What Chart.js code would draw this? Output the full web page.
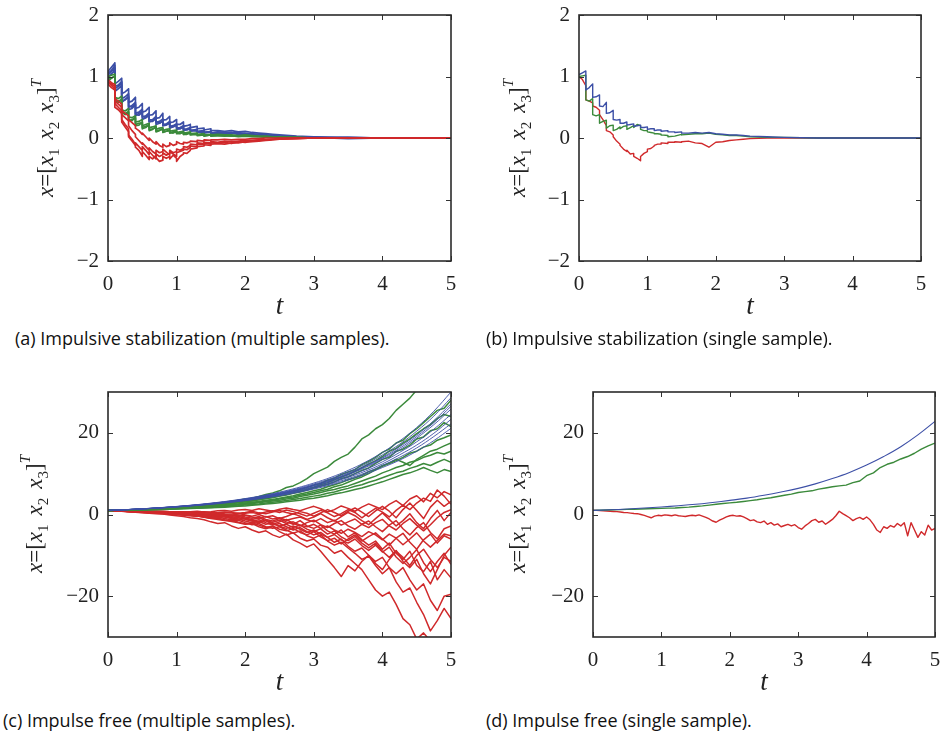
<!DOCTYPE html>
<html><head><meta charset="utf-8">
<script src="https://cdn.jsdelivr.net/npm/chart.js@4.4.0/dist/chart.umd.min.js"></script>
<style>
body{margin:0;background:#fff;width:941px;height:733px;position:relative;overflow:hidden;}
.panel{position:absolute;}
.cap{position:absolute;font-family:"Open Sans",sans-serif;font-size:18px;line-height:22px;color:#111;white-space:nowrap;}
.yl{position:absolute;font-family:"Liberation Serif",serif;font-size:23px;line-height:26px;color:#222;white-space:nowrap;transform:translate(-50%,-50%) rotate(-90deg);}
.yl i{font-style:italic;}
.yl sub{font-size:15px;vertical-align:-6px;line-height:0;margin-right:9px;}
.yl sub.l{margin-right:0;}
.yl sup{font-size:15px;vertical-align:12px;line-height:0;}
</style></head><body>
<div class="panel" id="pa"><canvas id="ca"></canvas></div>
<div class="panel" id="pb"><canvas id="cb"></canvas></div>
<div class="panel" id="pc"><canvas id="cc"></canvas></div>
<div class="panel" id="pd"><canvas id="cd"></canvas></div>
<div class="yl" style="left:46px;top:138px"><i>x</i>=[<i>x</i><sub>1</sub><i>x</i><sub>2</sub><i>x</i><sub class="l">3</sub>]<sup><i>T</i></sup></div>
<div class="yl" style="left:518px;top:138px"><i>x</i>=[<i>x</i><sub>1</sub><i>x</i><sub>2</sub><i>x</i><sub class="l">3</sub>]<sup><i>T</i></sup></div>
<div class="yl" style="left:35px;top:514px"><i>x</i>=[<i>x</i><sub>1</sub><i>x</i><sub>2</sub><i>x</i><sub class="l">3</sub>]<sup><i>T</i></sup></div>
<div class="yl" style="left:518px;top:514px"><i>x</i>=[<i>x</i><sub>1</sub><i>x</i><sub>2</sub><i>x</i><sub class="l">3</sub>]<sup><i>T</i></sup></div>
<div class="cap" style="left:15px;top:327px">(a) Impulsive stabilization (multiple samples).</div>
<div class="cap" style="left:486px;top:327px">(b) Impulsive stabilization (single sample).</div>
<div class="cap" style="left:3px;top:709px">(c) Impulse free (multiple samples).</div>
<div class="cap" style="left:486px;top:709px">(d) Impulse free (single sample).</div>
<script>
// ---------- tick labels ----------
const xTicks = [0, 1, 2, 3, 4, 5];
const yTicksAB = [-2, -1, 0, 1, 2];
const yTicksCD = [-20, 0, 20];

// ---------- time grids ----------
// impulsive grid (repeated instants = value just before / just after an impulse)
const tImp = [0,0.05,0.1,0.1,0.15,0.2,0.2,0.25,0.3,0.3,0.35,0.4,0.4,0.45,0.5,0.5,0.55,0.6,0.6,0.65,0.7,0.7,0.75,0.8,0.8,0.85,0.9,0.9,0.95,1.0,1.0,1.05,1.1,1.1,1.15,1.2,1.2,1.3,1.3,1.4,1.4,1.5,1.5,1.6,1.7,1.8,1.9,2.0,2.1,2.2,2.3,2.4,2.5,2.75,3.0,3.5,4.0,5.0];
const tC = [0,0.1,0.2,0.3,0.4,0.5,0.6,0.7,0.8,0.9,1.0,1.1,1.2,1.3,1.4,1.5,1.6,1.7,1.8,1.9,2.0,2.1,2.2,2.3,2.4,2.5,2.6,2.7,2.8,2.9,3.0,3.1,3.2,3.3,3.4,3.5,3.6,3.7,3.8,3.9,4.0,4.1,4.2,4.3,4.4,4.5,4.6,4.7,4.8,4.9,5.0];
const tBlue = [0,0.25,0.5,0.75,1.0,1.25,1.5,1.75,2.0,2.25,2.5,2.75,3.0,3.25,3.5,3.75,4.0,4.25,4.5,4.75,5.0];
const tD = [0,0.05,0.1,0.15,0.2,0.25,0.3,0.35,0.4,0.45,0.5,0.55,0.6,0.65,0.7,0.75,0.8,0.85,0.9,0.95,1.0,1.05,1.1,1.15,1.2,1.25,1.3,1.35,1.4,1.45,1.5,1.55,1.6,1.65,1.7,1.75,1.8,1.85,1.9,1.95,2.0,2.05,2.1,2.15,2.2,2.25,2.3,2.35,2.4,2.45,2.5,2.55,2.6,2.65,2.7,2.75,2.8,2.85,2.9,2.95,3.0,3.05,3.1,3.15,3.2,3.25,3.3,3.35,3.4,3.45,3.5,3.55,3.6,3.65,3.7,3.75,3.8,3.85,3.9,3.95,4.0,4.05,4.1,4.15,4.2,4.25,4.3,4.35,4.4,4.45,4.5,4.55,4.6,4.65,4.7,4.75,4.8,4.85,4.9,4.95,5.0];

// ---------- (a) impulsive stabilization, multiple samples ----------
const aBlue1 = [1.08,1.15,1.22,0.88,0.92,0.97,0.72,0.75,0.8,0.58,0.6,0.66,0.48,0.5,0.56,0.42,0.44,0.5,0.37,0.38,0.44,0.32,0.33,0.4,0.29,0.3,0.35,0.25,0.26,0.3,0.22,0.22,0.26,0.19,0.2,0.22,0.17,0.19,0.15,0.16,0.13,0.15,0.12,0.12,0.11,0.12,0.1,0.11,0.09,0.08,0.07,0.06,0.05,0.03,0.02,0.01,0,0];
const aBlue2 = [1.02,1.08,1.14,0.8,0.84,0.9,0.64,0.67,0.72,0.5,0.53,0.58,0.4,0.42,0.47,0.34,0.36,0.41,0.29,0.3,0.35,0.25,0.27,0.31,0.22,0.23,0.27,0.19,0.2,0.23,0.16,0.17,0.2,0.14,0.15,0.17,0.12,0.14,0.11,0.12,0.09,0.11,0.08,0.09,0.1,0.08,0.09,0.07,0.06,0.06,0.05,0.04,0.03,0.02,0.01,0,0,0];
const aBlue3 = [0.98,1.04,1.1,0.84,0.86,0.92,0.6,0.62,0.68,0.52,0.5,0.55,0.36,0.4,0.44,0.36,0.33,0.38,0.26,0.28,0.33,0.27,0.24,0.28,0.2,0.22,0.25,0.17,0.18,0.21,0.17,0.15,0.18,0.12,0.14,0.15,0.13,0.12,0.1,0.11,0.1,0.09,0.07,0.1,0.08,0.09,0.07,0.08,0.07,0.05,0.05,0.03,0.03,0.02,0,0.01,0,0];
const aBlue4 = [1.05,1.1,1.18,0.76,0.8,0.86,0.58,0.63,0.66,0.46,0.48,0.54,0.38,0.37,0.42,0.3,0.33,0.37,0.27,0.27,0.32,0.22,0.24,0.28,0.2,0.21,0.24,0.16,0.19,0.21,0.14,0.15,0.18,0.13,0.13,0.15,0.11,0.12,0.09,0.1,0.08,0.1,0.07,0.08,0.07,0.08,0.06,0.06,0.05,0.05,0.04,0.03,0.02,0.01,0.01,-0.01,0,0];
const aGreen1 = [1.0,1.02,1.04,0.66,0.64,0.68,0.46,0.44,0.48,0.34,0.33,0.36,0.26,0.27,0.3,0.2,0.22,0.24,0.17,0.18,0.2,0.14,0.16,0.17,0.12,0.14,0.15,0.11,0.12,0.13,0.09,0.1,0.11,0.08,0.09,0.1,0.07,0.08,0.06,0.07,0.05,0.06,0.05,0.06,0.05,0.05,0.04,0.05,0.04,0.03,0.03,0.02,0.02,0.01,0,0,0,0];
const aGreen2 = [0.96,0.98,1.0,0.58,0.6,0.62,0.4,0.4,0.43,0.28,0.3,0.32,0.22,0.24,0.25,0.17,0.19,0.21,0.14,0.15,0.17,0.11,0.13,0.14,0.1,0.11,0.13,0.08,0.1,0.1,0.07,0.08,0.09,0.06,0.07,0.08,0.05,0.06,0.05,0.05,0.04,0.05,0.03,0.04,0.04,0.03,0.03,0.04,0.03,0.02,0.02,0.02,0.01,0.01,0,0,0,0];
const aGreen3 = [0.93,0.97,1.01,0.62,0.58,0.63,0.42,0.38,0.42,0.3,0.28,0.34,0.2,0.21,0.26,0.15,0.17,0.22,0.12,0.14,0.18,0.1,0.12,0.15,0.09,0.11,0.12,0.09,0.08,0.11,0.08,0.07,0.1,0.06,0.06,0.09,0.06,0.07,0.04,0.05,0.03,0.05,0.04,0.04,0.03,0.04,0.02,0.03,0.02,0.02,0.01,0.01,0.01,0,0,0,0,0];
const aRed1 = [0.92,0.86,0.8,0.56,0.5,0.44,0.3,0.22,0.15,0.05,-0.02,-0.1,-0.15,-0.2,-0.3,-0.22,-0.28,-0.35,-0.3,-0.34,-0.28,-0.32,-0.38,-0.36,-0.3,-0.33,-0.3,-0.34,-0.28,-0.33,-0.38,-0.3,-0.26,-0.24,-0.25,-0.2,-0.18,-0.16,-0.14,-0.13,-0.11,-0.12,-0.1,-0.09,-0.1,-0.08,-0.08,-0.06,-0.06,-0.05,-0.04,-0.03,-0.02,-0.01,0,0,0,0];
const aRed2 = [0.9,0.88,0.84,0.6,0.55,0.5,0.38,0.33,0.28,0.2,0.12,0.06,0.02,-0.04,-0.1,-0.08,-0.14,-0.2,-0.16,-0.22,-0.26,-0.2,-0.24,-0.22,-0.18,-0.23,-0.28,-0.2,-0.24,-0.22,-0.18,-0.2,-0.17,-0.14,-0.15,-0.12,-0.1,-0.11,-0.08,-0.09,-0.07,-0.08,-0.06,-0.07,-0.05,-0.06,-0.05,-0.04,-0.04,-0.03,-0.03,-0.02,-0.01,0,0,0,0,0];
const aRed3 = [0.95,0.9,0.87,0.64,0.6,0.55,0.45,0.4,0.36,0.3,0.25,0.2,0.16,0.12,0.06,0.08,0.02,-0.04,0,-0.06,-0.1,-0.06,-0.12,-0.15,-0.1,-0.14,-0.12,-0.08,-0.12,-0.1,-0.06,-0.09,-0.1,-0.07,-0.08,-0.06,-0.05,-0.06,-0.04,-0.05,-0.03,-0.04,-0.03,-0.03,-0.02,-0.03,-0.02,-0.02,-0.01,-0.01,0,0,0,0,0,0,0,0];
const aRed4 = [0.88,0.82,0.78,0.5,0.46,0.4,0.26,0.18,0.1,0.02,-0.05,-0.12,-0.08,-0.14,-0.2,-0.14,-0.2,-0.27,-0.22,-0.28,-0.34,-0.26,-0.3,-0.27,-0.24,-0.28,-0.25,-0.22,-0.26,-0.3,-0.24,-0.22,-0.2,-0.18,-0.19,-0.15,-0.13,-0.14,-0.1,-0.11,-0.08,-0.1,-0.07,-0.08,-0.07,-0.09,-0.06,-0.07,-0.05,-0.04,-0.03,-0.02,-0.02,-0.01,0,0,0,0];

// ---------- (b) impulsive stabilization, single sample ----------
const bBlue = [1.03,1.06,1.09,0.78,0.82,0.88,0.66,0.67,0.7,0.52,0.51,0.58,0.4,0.41,0.45,0.3,0.29,0.3,0.24,0.24,0.26,0.21,0.22,0.23,0.19,0.2,0.21,0.17,0.17,0.18,0.14,0.15,0.15,0.12,0.13,0.13,0.11,0.12,0.1,0.1,0.09,0.1,0.08,0.08,0.09,0.08,0.09,0.07,0.06,0.05,0.05,0.04,0.03,0.02,0.01,0,0,0];
const bGreen = [1.0,1.01,1.02,0.62,0.6,0.64,0.38,0.36,0.38,0.24,0.27,0.29,0.16,0.2,0.21,0.12,0.14,0.18,0.15,0.19,0.2,0.14,0.17,0.2,0.17,0.22,0.2,0.14,0.12,0.12,0.1,0.09,0.08,0.07,0.07,0.06,0.05,0.04,0.02,0.03,0.03,0.06,0.05,0.06,0.07,0.07,0.08,0.06,0.05,0.04,0.04,0.03,0.02,0.01,0.01,0,0,0];
const bRed = [1.0,0.95,0.85,0.62,0.6,0.57,0.52,0.5,0.45,0.38,0.3,0.2,0.12,0.1,0.05,0.02,-0.05,-0.1,-0.12,-0.18,-0.22,-0.2,-0.26,-0.25,-0.3,-0.33,-0.37,-0.3,-0.25,-0.22,-0.18,-0.17,-0.13,-0.12,-0.1,-0.1,-0.08,-0.09,-0.07,-0.07,-0.06,-0.07,-0.06,-0.05,-0.08,-0.09,-0.15,-0.07,-0.06,-0.04,-0.03,-0.02,-0.01,0,0,0,0,0];

// ---------- (c) impulse free, multiple samples ----------
const cRed1 = [1,1,0.95,0.9,0.9,0.85,0.8,0.85,0.8,0.7, 0.7,0.6,0.7,0.8,0.6,0.7,0.9,1.0,0.8,1.1, 1.2,1.0,1.4,1.1,0.8,1.3,1.6,1.2,0.9,1.5, 2.0,1.4,0.6,1.2,2.1,1.5,0.8,1.8,2.6,1.9, 1.2,2.5,3.4,2.2,3.8,4.6,3.1,5.2,4.1,5.6, 4.8];
const cRed2 = [1,0.95,0.9,0.85,0.8,0.75,0.7,0.6,0.55,0.5, 0.45,0.4,0.3,0.35,0.2,0.1,0.2,0,-0.2,0.1, 0.3,0.5,0.2,0.6,0.9,0.5,1.1,0.7,0.2,-0.4, 0.3,1.0,0.4,-0.5,0.2,1.2,0.5,-0.8,0.4,1.5, 0.6,-0.6,1.0,2.3,1.2,2.8,4.0,3.2,6.0,4.5, 2.5];
const cRed3 = [1,0.9,0.85,0.7,0.6,0.5,0.45,0.3,0.2,0.15, 0,-0.1,-0.2,-0.4,-0.3,-0.6,-0.8,-0.5,-1.0,-1.3, -1.0,-1.6,-2.0,-1.5,-2.4,-1.8,-1.2,-2.2,-2.8,-2.0, -1.4,-2.5,-3.2,-2.2,-1.5,-2.8,-3.6,-2.4,-1.6,-3.0, -4.2,-2.6,-1.5,-3.5,-5.0,-3.2,-2.0,-4.4,-6.0,-3.5, -2.8];
const cRed4 = [1,0.95,0.9,0.8,0.75,0.7,0.6,0.5,0.3,0.2, 0.1,0.1,-0.1,-0.3,-0.6,-0.9,-1.2,-1.5,-1.4,-1.9, -2.3,-2.0,-2.6,-3.2,-2.8,-3.6,-4.0,-3.4,-4.4,-5.0, -4.2,-5.5,-6.4,-5.8,-7.2,-6.0,-5.0,-6.5,-5.4,-4.5, -6.0,-7.5,-5.8,-4.6,-6.8,-8.5,-6.2,-4.8,-7.0,-5.2, -6.0];
const cRed5 = [1,0.9,0.8,0.7,0.55,0.45,0.3,0.2,0.1,-0.1, -0.3,-0.5,-0.8,-1.0,-1.3,-1.8,-2.2,-2.0,-2.8,-3.4, -3.0,-3.8,-4.4,-4.0,-5.0,-5.6,-4.8,-6.2,-7.0,-8.0, -7.2,-9.0,-11.0,-13.0,-15.2,-12.5,-13.8,-11.5,-10.0,-12.0, -13.5,-11.0,-9.0,-10.5,-12.5,-10.0,-8.5,-11.0,-13.0,-10.5, -11.5];
const cRed6 = [1,0.95,0.85,0.8,0.7,0.6,0.5,0.45,0.3,0.2, 0.1,0,-0.2,-0.3,-0.6,-0.8,-1.0,-1.4,-1.7,-2.0, -2.4,-2.2,-3.0,-3.5,-3.0,-4.2,-5.0,-4.5,-5.8,-6.5, -6.0,-7.5,-8.0,-9.5,-8.8,-10.5,-12.0,-13.5,-16.0,-18.5, -20.0,-19.0,-22.0,-25.5,-27.0,-30.5,-29.0,-31,-32,-31, -33];
const cRed7 = [1,0.9,0.85,0.75,0.7,0.6,0.55,0.4,0.35,0.3, 0.2,0.1,0,-0.1,-0.2,-0.4,-0.3,-0.6,-0.9,-0.7, -1.2,-1.6,-1.3,-2.0,-2.6,-2.2,-3.0,-3.8,-3.2,-4.2, -5.0,-4.4,-5.6,-6.8,-6.0,-7.8,-9.0,-8.2,-10.0,-11.5, -10.5,-13.0,-14.5,-13.0,-16.0,-18.5,-17.0,-21.0,-23.5,-20.0, -19.5];
const cRed8 = [1,0.95,0.9,0.85,0.8,0.7,0.65,0.55,0.5,0.45, 0.3,0.25,0.2,0.3,0.1,-0.1,0,-0.3,-0.5,-0.2, -0.6,-0.9,-0.5,-1.2,-1.6,-1.0,-1.8,-2.4,-1.5,-2.8, -3.4,-2.6,-4.0,-4.8,-3.8,-5.5,-4.5,-6.2,-7.5,-6.5, -8.5,-7.0,-9.5,-11.0,-9.0,-12.5,-14.0,-11.5,-16.0,-13.5, -15.5];
const cRed9 = [1,1,0.9,0.9,0.85,0.8,0.8,0.7,0.7,0.65, 0.6,0.55,0.5,0.6,0.45,0.3,0.4,0.2,0.1,0.3, -0.1,-0.4,0,-0.6,-0.3,-1.0,-0.5,0.2,-0.4,-1.2, -0.6,0.2,-0.8,-1.6,-0.5,0.5,-0.3,-1.5,-2.5,-1.0, 0.4,-1.2,-2.8,-1.5,0.2,-2.0,-3.5,-1.0,1.0,-1.5, 0.5];
const cRed10 = [1,0.9,0.85,0.75,0.65,0.55,0.5,0.4,0.3,0.15, 0.05,-0.1,-0.3,-0.4,-0.7,-1.0,-0.9,-1.3,-1.6,-1.4, -2.0,-2.5,-2.2,-3.0,-3.4,-3.0,-3.8,-4.6,-4.0,-5.2, -5.8,-5.0,-6.5,-7.5,-6.8,-8.2,-9.5,-11.0,-10.2,-12.5, -14.5,-13.0,-16.5,-19.0,-18.0,-21.5,-24.5,-28.5,-26.0,-23.0, -25.5];
const cRed11 = [1,0.95,0.9,0.8,0.7,0.65,0.6,0.5,0.4,0.35, 0.25,0.2,0.05,0,-0.2,-0.3,-0.5,-0.4,-0.8,-1.1, -0.9,-1.4,-1.8,-1.4,-2.2,-2.8,-2.4,-3.2,-2.6,-3.6, -4.2,-3.5,-4.8,-4.0,-5.5,-6.4,-5.4,-7.0,-8.2,-7.0, -9.0,-10.5,-8.8,-11.5,-13.0,-11.0,-14.5,-17.0,-13.5,-10.0, -8.0];
const cRed12 = [1,1,0.95,0.9,0.85,0.85,0.8,0.75,0.75,0.7, 0.65,0.7,0.6,0.55,0.65,0.5,0.45,0.6,0.5,0.3, 0.5,0.8,0.4,0.2,0.6,1.0,0.5,0.1,0.7,0.3, -0.4,0.4,1.2,0.5,-0.3,0.8,1.6,0.6,-0.5,0.9, 2.0,0.8,-0.8,1.2,2.8,1.0,-1.0,1.8,3.5,2.0, 3.2];
const cRed13 = [1,0.95,0.9,0.85,0.75,0.7,0.6,0.55,0.45,0.4, 0.3,0.2,0.1,0.15,-0.1,-0.3,-0.2,-0.5,-0.7,-0.5, -0.9,-1.2,-0.8,-1.5,-1.9,-1.4,-2.2,-1.8,-2.6,-3.0, -2.4,-3.4,-2.8,-3.8,-4.6,-3.6,-4.4,-5.4,-4.2,-5.0, -6.2,-4.8,-5.8,-7.4,-6.0,-4.5,-6.5,-8.0,-6.4,-4.8, -5.2];
const cRed14 = [1,0.9,0.8,0.75,0.65,0.55,0.5,0.35,0.25,0.2, 0.05,-0.1,-0.25,-0.2,-0.5,-0.7,-0.6,-1.0,-1.3,-1.1, -1.6,-2.0,-1.7,-2.4,-2.1,-2.9,-3.4,-2.8,-3.6,-4.4, -3.8,-4.8,-5.6,-4.9,-6.2,-7.0,-6.0,-7.6,-8.8,-7.5, -9.2,-8.0,-10.4,-12.0,-10.5,-8.6,-11.8,-14.0,-11.5,-9.5, -12.2];
const cRed15 = [1,0.95,0.85,0.8,0.8,0.7,0.65,0.6,0.5,0.5, 0.4,0.35,0.2,0.25,0.1,0.0,0.1,-0.2,-0.1,-0.4, -0.2,-0.6,-0.9,-0.5,-1.1,-0.8,-1.4,-1.0,-0.6,-1.3, -1.8,-1.0,-2.0,-1.4,-2.6,-1.8,-1.1,-2.4,-3.2,-2.0, -1.2,-2.8,-3.8,-2.2,-1.0,-2.6,-4.0,-2.5,-0.8,0.5, 1.2];
const cGreen1 = [1,1.05,1.1,1.15,1.2,1.3,1.35,1.45,1.55,1.6, 1.7,1.85,2.0,2.15,2.3,2.5,2.7,2.9,3.2,3.5, 3.8,4.0,4.4,4.9,5.3,5.8,6.6,7.0,7.8,8.8, 10.0,10.8,11.6,13.0,14.0,14.8,16.5,18.5,19.5,21.0, 22.0,23.5,25.5,27.0,28.5,30.5,31,32,33,34, 35];
const cGreen2 = [1,1.05,1.1,1.15,1.2,1.25,1.3,1.4,1.5,1.55, 1.65,1.75,1.9,2.0,2.15,2.3,2.5,2.7,2.9,3.1, 3.3,3.6,3.9,4.2,4.5,4.9,5.3,5.6,6.1,6.6, 7.2,7.6,8.4,8.9,9.8,10.4,11.0,12.2,13.0,14.0, 15.2,16.0,17.5,18.2,19.8,21.0,22.5,24.0,25.5,26.0, 28.0];
const cGreen3 = [1,1.05,1.1,1.12,1.18,1.22,1.3,1.35,1.42,1.5, 1.6,1.7,1.8,1.95,2.05,2.2,2.35,2.5,2.7,2.9, 3.1,3.3,3.6,3.9,4.1,4.5,4.8,5.2,5.5,6.0, 6.5,7.0,7.4,8.0,8.8,9.2,10.0,10.8,11.4,12.5, 13.5,14.0,15.5,16.0,17.0,18.5,19.0,20.5,21.0,22.5, 21.5];
const cGreen4 = [1,1.03,1.07,1.1,1.15,1.2,1.25,1.3,1.38,1.45, 1.52,1.6,1.7,1.8,1.9,2.0,2.15,2.3,2.45,2.6, 2.8,3.0,3.2,3.5,3.7,4.0,4.3,4.6,5.0,5.4, 5.8,6.2,6.8,7.3,7.8,8.5,9.0,9.6,10.5,11.0, 12.0,12.5,13.2,14.0,15.0,15.5,16.5,17.0,18.2,18.8, 19.5];
const cGreen5 = [1,1.03,1.06,1.1,1.14,1.2,1.25,1.32,1.38,1.44, 1.5,1.58,1.66,1.75,1.85,1.95,2.1,2.2,2.35,2.5, 2.7,2.9,3.05,3.3,3.5,3.8,4.1,4.3,4.7,5.0, 5.4,5.8,6.2,6.8,7.2,7.9,8.6,9.2,10.0,11.0, 11.8,12.6,13.5,12.8,12.0,13.5,14.5,15.5,16.0,16.8, 17.5];
const cGreen6 = [1,1.02,1.05,1.08,1.12,1.16,1.2,1.25,1.3,1.36, 1.42,1.5,1.57,1.65,1.75,1.85,1.95,2.05,2.2,2.35, 2.5,2.7,2.9,3.1,3.3,3.5,3.8,4.0,4.4,4.7, 5.0,5.4,5.8,6.1,6.6,7.0,7.6,8.2,8.8,9.4, 10.2,10.8,11.5,12.0,12.8,13.2,14.0,14.5,15.2,14.8, 15.5];
const cGreen7 = [1,1.02,1.04,1.07,1.1,1.14,1.18,1.22,1.27,1.32, 1.38,1.44,1.5,1.58,1.66,1.74,1.83,1.93,2.05,2.15, 2.3,2.45,2.6,2.8,3.0,3.2,3.4,3.7,3.9,4.2, 4.5,4.8,5.2,5.5,6.0,6.4,6.9,7.3,7.9,8.4, 9.0,9.6,10.2,10.6,11.3,11.8,12.5,12.0,12.8,13.5, 12.8];
const cGreen8 = [1,1.02,1.04,1.06,1.09,1.12,1.16,1.2,1.24,1.28, 1.33,1.38,1.44,1.5,1.57,1.64,1.72,1.8,1.9,2.0, 2.1,2.25,2.4,2.55,2.7,2.9,3.1,3.3,3.5,3.8, 4.0,4.3,4.6,5.0,5.3,5.7,6.1,6.5,7.0,7.5, 8.0,8.6,9.2,9.8,10.2,10.8,11.5,10.8,10.2,11.0, 10.5];
const cGreen9 = [1,1.04,1.08,1.13,1.18,1.24,1.3,1.36,1.44,1.52, 1.6,1.7,1.8,1.92,2.05,2.2,2.35,2.5,2.7,2.9, 3.1,3.35,3.6,3.9,4.2,4.5,4.9,5.3,5.7,6.2, 6.7,7.3,7.8,8.5,9.2,9.8,10.6,11.5,12.4,13.2, 14.2,15.5,16.2,17.5,18.5,19.8,21.0,22.0,23.5,24.5, 24.0];
const cBlue1 = [1,1.19,1.41,1.67,1.98,2.34,2.78,3.29,3.9,4.62,5.48,6.5,7.7,9.1,10.8,12.8,15.2,18.0,21.3,25.3,30.0];
const cBlue2 = [1,1.18,1.4,1.66,1.95,2.31,2.73,3.23,3.81,4.5,5.33,6.3,7.46,8.8,10.4,12.3,14.6,17.2,20.4,24.1,28.6];
const cBlue3 = [1,1.18,1.39,1.64,1.93,2.28,2.69,3.17,3.74,4.42,5.2,6.14,7.25,8.55,10.1,11.9,14.0,16.6,19.5,23.0,27.1];
const cBlue4 = [1,1.18,1.38,1.63,1.92,2.25,2.65,3.12,3.67,4.32,5.08,5.98,7.03,8.27,9.73,11.5,13.5,15.8,18.7,22.0,25.8];
const cBlue5 = [1,1.17,1.38,1.62,1.9,2.23,2.61,3.06,3.6,4.22,4.95,5.8,6.82,8.0,9.4,11.0,12.9,15.2,17.8,20.9,24.5];
const cBlue6 = [1,1.17,1.37,1.6,1.88,2.2,2.57,3.01,3.53,4.13,4.84,5.66,6.63,7.76,9.1,10.6,12.4,14.6,17.0,19.9,23.3];
const cBlue7 = [1,1.17,1.36,1.59,1.86,2.17,2.54,2.96,3.46,4.04,4.72,5.51,6.43,7.51,8.77,10.2,12.0,14.0,16.3,19.1,22.2];
const cBlue8 = [1,1.16,1.36,1.58,1.84,2.14,2.5,2.91,3.39,3.94,4.59,5.35,6.23,7.26,8.45,9.84,11.5,13.3,15.5,18.1,21.1];
const cBlue9 = [1,1.18,1.39,1.63,1.93,2.27,2.67,3.15,3.7,4.37,5.14,6.05,7.14,8.4,9.9,11.7,13.8,16.2,19.1,22.5,26.5];

// ---------- (d) impulse free, single sample ----------
const dBlue = [1,1.15,1.35,1.6,1.85,2.15,2.5,2.95,3.45,4.0,4.7,5.5,6.4,7.5,8.8,10.3,12.1,14.2,16.6,19.5,22.8];
const dGreen = [1,1.05,1.1,1.15,1.2,1.25,1.3,1.35,1.4,1.45, 1.5,1.55,1.6,1.7,1.8,1.95,2.1,2.3,2.5,2.7, 2.85,3.0,3.2,3.4,3.6,3.9,4.1,4.4,4.7,5.0, 5.4,5.6,5.8,6.2,6.5,6.8,7.0,7.2,7.8,8.2, 9.5,10.2,11.5,12.3,12.8,13.6,14.2,15.0,16.0,16.8, 17.5];
const dRed = [1.0,1.0,0.95,0.9,0.85,0.8,0.75,0.7,0.6,0.5, 0.45,0.35,0.25,0.2,0.0,-0.2,-0.5,-0.8,-0.4,-0.2, -0.3,-0.1,-0.2,-0.3,-0.1,-0.3,-0.4,-0.5,-0.3,-0.2, -0.3,-0.1,-0.4,-0.7,-1.1,-1.6,-1.9,-1.4,-1.0,-0.6, -0.3,-0.2,-0.4,-0.3,-0.6,-1.0,-1.5,-1.3,-1.8,-2.0, -1.6,-2.4,-2.0,-2.6,-2.3,-3.0,-2.7,-2.4,-2.8,-2.5, -3.2,-3.6,-2.8,-2.2,-1.5,-1.2,-1.9,-1.6,-2.4,-1.8, -1.2,-0.3,0.8,0.2,-0.3,-0.8,-1.5,-1.0,-0.7,-1.2, -0.6,-1.3,-2.4,-3.8,-4.4,-3.0,-3.4,-2.7,-3.1,-2.2, -2.8,-2.0,-5.2,-2.0,-3.8,-5.6,-4.2,-5.0,-2.6,-3.8, -3.4];

// ---------- rendering ----------
const BLUE = '#3c4fa6', GREEN = '#3b8a3b', RED = '#d0292b';
const FONT = '"Liberation Serif", "DejaVu Serif", serif';

function pts(t, v) {
  const n = Math.min(t.length, v.length);
  const out = [];
  for (let i = 0; i < n; i++) out.push({x: t[i], y: v[i]});
  return out;
}
function ds(t, v, color, w, tension) {
  return {data: pts(t, v), borderColor: color, borderWidth: w, pointRadius: 0, fill: false,
          tension: tension || 0, borderJoinStyle: 'round'};
}

const boxPlugin = {
  id: 'box',
  afterDatasetsDraw(chart) {
    const {ctx, chartArea: a, scales: {x, y}} = chart;
    ctx.save();
    ctx.strokeStyle = '#333'; ctx.lineWidth = 1;
    const L = 5;
    ctx.beginPath();
    x.ticks.forEach(tk => {
      const px = Math.round(x.getPixelForValue(tk.value)) + 0.5;
      ctx.moveTo(px, a.bottom); ctx.lineTo(px, a.bottom - L);
      ctx.moveTo(px, a.top); ctx.lineTo(px, a.top + L);
    });
    y.ticks.forEach(tk => {
      const py = Math.round(y.getPixelForValue(tk.value)) + 0.5;
      ctx.moveTo(a.left, py); ctx.lineTo(a.left + L, py);
      ctx.moveTo(a.right, py); ctx.lineTo(a.right - L, py);
    });
    ctx.stroke();
    ctx.lineWidth = 1.6; ctx.strokeStyle = '#2b2b2b';
    ctx.strokeRect(a.left, a.top, a.right - a.left, a.bottom - a.top);
    ctx.restore();
  }
};

function makeChart(panelId, canvasId, box, datasets, yMin, yMax, yTicks) {
  const padL = 60, padT = 15, padR = 10, xH = 62;
  const W = box.w + padL + padR, H = box.h + padT + xH;
  const p = document.getElementById(panelId);
  p.style.left = (box.l - padL) + 'px';
  p.style.top = (box.t - padT) + 'px';
  p.style.width = W + 'px'; p.style.height = H + 'px';
  const c = document.getElementById(canvasId);
  c.width = W; c.height = H;
  c.style.width = W + 'px'; c.style.height = H + 'px';
  const tickFont = {family: FONT, size: 21};
  new Chart(c, {
    type: 'line',
    data: {datasets},
    plugins: [boxPlugin],
    options: {
      responsive: false, animation: false, devicePixelRatio: 1,
      layout: {padding: {top: padT, right: padR, left: 0, bottom: 0}},
      plugins: {legend: {display: false}, tooltip: {enabled: false}},
      scales: {
        x: {
          type: 'linear', min: 0, max: 5,
          afterBuildTicks: s => { s.ticks = xTicks.map(v => ({value: v})); },
          grid: {display: false, drawTicks: false}, border: {display: false},
          ticks: {padding: 11, color: '#222', font: tickFont, maxRotation: 0, autoSkip: false,
                  callback: v => String(v)},
          title: {display: true, text: 't', color: '#222',
                  font: {family: FONT, size: 27, style: 'italic'}, padding: 0},
          afterFit: s => { s.height = xH; s.paddingLeft = 0; s.paddingRight = 0; }
        },
        y: {
          type: 'linear', min: yMin, max: yMax,
          afterBuildTicks: s => { s.ticks = yTicks.map(v => ({value: v})); },
          grid: {display: false, drawTicks: false}, border: {display: false},
          ticks: {padding: 9, color: '#222', font: tickFont, autoSkip: false,
                  callback: v => String(v).replace('-', '\u2212')},
          afterFit: s => { s.width = padL; s.paddingTop = 0; s.paddingBottom = 0; }
        }
      }
    }
  });
}

// (a) first dataset is drawn on top
const wA = 1.7;
makeChart('pa', 'ca', {l: 108, t: 15, w: 343, h: 246}, [
  ds(tImp, aRed1, RED, wA), ds(tImp, aRed2, RED, wA), ds(tImp, aRed3, RED, wA), ds(tImp, aRed4, RED, wA),
  ds(tImp, aGreen1, GREEN, wA), ds(tImp, aGreen2, GREEN, wA), ds(tImp, aGreen3, GREEN, wA),
  ds(tImp, aBlue1, BLUE, wA), ds(tImp, aBlue2, BLUE, wA), ds(tImp, aBlue3, BLUE, wA), ds(tImp, aBlue4, BLUE, wA)
], -2, 2, yTicksAB);

makeChart('pb', 'cb', {l: 579, t: 15, w: 342, h: 246}, [
  ds(tImp, bBlue, BLUE, 1.4), ds(tImp, bGreen, GREEN, 1.4), ds(tImp, bRed, RED, 1.4)
], -2, 2, yTicksAB);

const wC = 1.5, wB = 0.9;
makeChart('pc', 'cc', {l: 108, t: 392, w: 343, h: 245}, [
  ds(tBlue, cBlue1, BLUE, wB, 0.4), ds(tBlue, cBlue2, BLUE, wB, 0.4), ds(tBlue, cBlue3, BLUE, wB, 0.4),
  ds(tBlue, cBlue4, BLUE, wB, 0.4), ds(tBlue, cBlue5, BLUE, wB, 0.4), ds(tBlue, cBlue6, BLUE, wB, 0.4),
  ds(tBlue, cBlue7, BLUE, wB, 0.4), ds(tBlue, cBlue8, BLUE, wB, 0.4), ds(tBlue, cBlue9, BLUE, wB, 0.4),
  ds(tC, cGreen1, GREEN, wC), ds(tC, cGreen2, GREEN, wC), ds(tC, cGreen3, GREEN, wC),
  ds(tC, cGreen4, GREEN, wC), ds(tC, cGreen5, GREEN, wC), ds(tC, cGreen6, GREEN, wC),
  ds(tC, cGreen7, GREEN, wC), ds(tC, cGreen8, GREEN, wC), ds(tC, cGreen9, GREEN, wC),
  ds(tC, cRed1, RED, wC), ds(tC, cRed2, RED, wC), ds(tC, cRed3, RED, wC), ds(tC, cRed4, RED, wC),
  ds(tC, cRed5, RED, wC), ds(tC, cRed6, RED, wC), ds(tC, cRed7, RED, wC), ds(tC, cRed8, RED, wC),
  ds(tC, cRed9, RED, wC), ds(tC, cRed10, RED, wC), ds(tC, cRed11, RED, wC), ds(tC, cRed12, RED, wC),
  ds(tC, cRed13, RED, wC), ds(tC, cRed14, RED, wC), ds(tC, cRed15, RED, wC)
], -30, 30, yTicksCD);

makeChart('pd', 'cd', {l: 593, t: 392, w: 342, h: 245}, [
  ds(tBlue, dBlue, BLUE, 1.1, 0.4), ds(tC, dGreen, GREEN, 1.4), ds(tD, dRed, RED, 1.4)
], -30, 30, yTicksCD);
</script>
</body></html>
